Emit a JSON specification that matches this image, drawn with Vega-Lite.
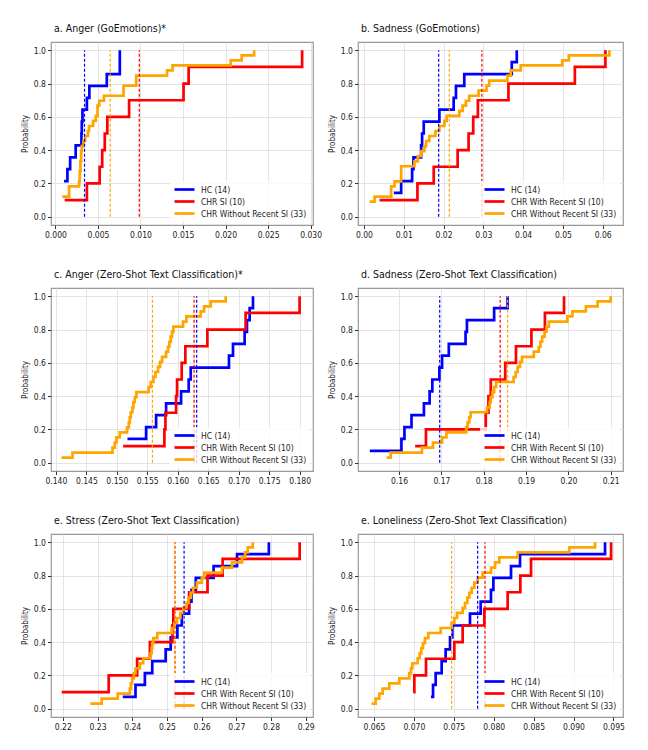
{
"$schema": "https://vega.github.io/schema/vega-lite/v6.json",
"background": "white",
"padding": {"left": 20, "top": 22, "right": 5, "bottom": 5},
"datasets": {
"cdf": [
{"p":"a","s":"h","x":0.00101,"y":0.214},{"p":"a","s":"h","x":0.00141,"y":0.286},{"p":"a","s":"h","x":0.00173,"y":0.357},{"p":"a","s":"h","x":0.00238,"y":0.429},{"p":"a","s":"h","x":0.00306,"y":0.5},{"p":"a","s":"h","x":0.0031,"y":0.571},{"p":"a","s":"h","x":0.00318,"y":0.643},{"p":"a","s":"h","x":0.0037,"y":0.714},{"p":"a","s":"h","x":0.00399,"y":0.786},{"p":"a","s":"h","x":0.00604,"y":0.857},{"p":"a","s":"h","x":0.00757,"y":1.0},
{"p":"a","s":"r","x":0.00109,"y":0.1},{"p":"a","s":"r","x":0.0037,"y":0.2},{"p":"a","s":"r","x":0.0052,"y":0.3},{"p":"a","s":"r","x":0.0055,"y":0.4},{"p":"a","s":"r","x":0.0058,"y":0.5},{"p":"a","s":"r","x":0.0061,"y":0.6},{"p":"a","s":"r","x":0.00866,"y":0.7},{"p":"a","s":"r","x":0.01506,"y":0.8},{"p":"a","s":"r","x":0.01566,"y":0.9},{"p":"a","s":"r","x":0.029,"y":1.0},
{"p":"a","s":"o","x":0.00081,"y":0.121},{"p":"a","s":"o","x":0.00161,"y":0.182},{"p":"a","s":"o","x":0.00278,"y":0.212},{"p":"a","s":"o","x":0.00286,"y":0.273},{"p":"a","s":"o","x":0.00294,"y":0.333},{"p":"a","s":"o","x":0.00302,"y":0.394},{"p":"a","s":"o","x":0.0031,"y":0.424},{"p":"a","s":"o","x":0.0033,"y":0.455},{"p":"a","s":"o","x":0.0035,"y":0.485},{"p":"a","s":"o","x":0.00382,"y":0.515},{"p":"a","s":"o","x":0.00395,"y":0.545},{"p":"a","s":"o","x":0.00443,"y":0.576},{"p":"a","s":"o","x":0.00475,"y":0.606},{"p":"a","s":"o","x":0.00495,"y":0.667},{"p":"a","s":"o","x":0.00515,"y":0.697},{"p":"a","s":"o","x":0.00571,"y":0.727},{"p":"a","s":"o","x":0.00801,"y":0.788},{"p":"a","s":"o","x":0.0095,"y":0.848},{"p":"a","s":"o","x":0.01312,"y":0.879},{"p":"a","s":"o","x":0.01377,"y":0.909},{"p":"a","s":"o","x":0.0206,"y":0.939},{"p":"a","s":"o","x":0.0219,"y":0.97},{"p":"a","s":"o","x":0.02336,"y":1.0},

{"p":"b","s":"h","x":0.00751,"y":0.143},{"p":"b","s":"h","x":0.00935,"y":0.214},{"p":"b","s":"h","x":0.0121,"y":0.286},{"p":"b","s":"h","x":0.01244,"y":0.357},{"p":"b","s":"h","x":0.01436,"y":0.429},{"p":"b","s":"h","x":0.01461,"y":0.5},{"p":"b","s":"h","x":0.01502,"y":0.571},{"p":"b","s":"h","x":0.01895,"y":0.643},{"p":"b","s":"h","x":0.02254,"y":0.714},{"p":"b","s":"h","x":0.02312,"y":0.786},{"p":"b","s":"h","x":0.02521,"y":0.857},{"p":"b","s":"h","x":0.03714,"y":0.929},{"p":"b","s":"h","x":0.0384,"y":1.0},
{"p":"b","s":"r","x":0.00392,"y":0.1},{"p":"b","s":"r","x":0.01344,"y":0.2},{"p":"b","s":"r","x":0.01753,"y":0.3},{"p":"b","s":"r","x":0.02354,"y":0.4},{"p":"b","s":"r","x":0.02629,"y":0.5},{"p":"b","s":"r","x":0.02746,"y":0.6},{"p":"b","s":"r","x":0.02863,"y":0.7},{"p":"b","s":"r","x":0.03631,"y":0.8},{"p":"b","s":"r","x":0.053,"y":0.9},{"p":"b","s":"r","x":0.06068,"y":1.0},
{"p":"b","s":"o","x":0.00142,"y":0.091},{"p":"b","s":"o","x":0.00267,"y":0.121},{"p":"b","s":"o","x":0.00684,"y":0.182},{"p":"b","s":"o","x":0.00768,"y":0.212},{"p":"b","s":"o","x":0.00935,"y":0.303},{"p":"b","s":"o","x":0.01269,"y":0.333},{"p":"b","s":"o","x":0.01352,"y":0.364},{"p":"b","s":"o","x":0.01436,"y":0.394},{"p":"b","s":"o","x":0.01519,"y":0.424},{"p":"b","s":"o","x":0.01561,"y":0.455},{"p":"b","s":"o","x":0.01644,"y":0.485},{"p":"b","s":"o","x":0.01795,"y":0.515},{"p":"b","s":"o","x":0.01895,"y":0.545},{"p":"b","s":"o","x":0.0202,"y":0.576},{"p":"b","s":"o","x":0.02078,"y":0.606},{"p":"b","s":"o","x":0.02396,"y":0.636},{"p":"b","s":"o","x":0.02479,"y":0.667},{"p":"b","s":"o","x":0.02563,"y":0.697},{"p":"b","s":"o","x":0.02646,"y":0.727},{"p":"b","s":"o","x":0.0288,"y":0.758},{"p":"b","s":"o","x":0.0308,"y":0.788},{"p":"b","s":"o","x":0.03147,"y":0.818},{"p":"b","s":"o","x":0.03606,"y":0.848},{"p":"b","s":"o","x":0.03689,"y":0.879},{"p":"b","s":"o","x":0.0394,"y":0.909},{"p":"b","s":"o","x":0.04983,"y":0.939},{"p":"b","s":"o","x":0.0515,"y":0.97},{"p":"b","s":"o","x":0.06169,"y":1.0},

{"p":"c","s":"h","x":0.15175,"y":0.143},{"p":"c","s":"h","x":0.15481,"y":0.214},{"p":"c","s":"h","x":0.15645,"y":0.286},{"p":"c","s":"h","x":0.15809,"y":0.357},{"p":"c","s":"h","x":0.16055,"y":0.429},{"p":"c","s":"h","x":0.1618,"y":0.5},{"p":"c","s":"h","x":0.16213,"y":0.571},{"p":"c","s":"h","x":0.16841,"y":0.643},{"p":"c","s":"h","x":0.16907,"y":0.714},{"p":"c","s":"h","x":0.17098,"y":0.786},{"p":"c","s":"h","x":0.17136,"y":0.857},{"p":"c","s":"h","x":0.1718,"y":0.929},{"p":"c","s":"h","x":0.17235,"y":1.0},
{"p":"c","s":"r","x":0.15104,"y":0.1},{"p":"c","s":"r","x":0.15781,"y":0.2},{"p":"c","s":"r","x":0.15798,"y":0.3},{"p":"c","s":"r","x":0.15973,"y":0.4},{"p":"c","s":"r","x":0.15989,"y":0.5},{"p":"c","s":"r","x":0.16065,"y":0.6},{"p":"c","s":"r","x":0.16125,"y":0.7},{"p":"c","s":"r","x":0.16486,"y":0.8},{"p":"c","s":"r","x":0.17114,"y":0.9},{"p":"c","s":"r","x":0.18,"y":1.0},
{"p":"c","s":"o","x":0.14093,"y":0.03},{"p":"c","s":"o","x":0.14273,"y":0.061},{"p":"c","s":"o","x":0.14929,"y":0.091},{"p":"c","s":"o","x":0.14967,"y":0.121},{"p":"c","s":"o","x":0.14994,"y":0.152},{"p":"c","s":"o","x":0.15049,"y":0.182},{"p":"c","s":"o","x":0.15169,"y":0.212},{"p":"c","s":"o","x":0.15197,"y":0.242},{"p":"c","s":"o","x":0.15213,"y":0.273},{"p":"c","s":"o","x":0.15229,"y":0.303},{"p":"c","s":"o","x":0.15257,"y":0.333},{"p":"c","s":"o","x":0.15273,"y":0.364},{"p":"c","s":"o","x":0.15295,"y":0.394},{"p":"c","s":"o","x":0.15322,"y":0.424},{"p":"c","s":"o","x":0.15524,"y":0.455},{"p":"c","s":"o","x":0.15557,"y":0.485},{"p":"c","s":"o","x":0.15601,"y":0.515},{"p":"c","s":"o","x":0.15634,"y":0.545},{"p":"c","s":"o","x":0.15677,"y":0.576},{"p":"c","s":"o","x":0.1571,"y":0.606},{"p":"c","s":"o","x":0.15743,"y":0.636},{"p":"c","s":"o","x":0.15809,"y":0.667},{"p":"c","s":"o","x":0.15841,"y":0.697},{"p":"c","s":"o","x":0.15863,"y":0.727},{"p":"c","s":"o","x":0.15885,"y":0.758},{"p":"c","s":"o","x":0.15907,"y":0.788},{"p":"c","s":"o","x":0.15929,"y":0.818},{"p":"c","s":"o","x":0.16087,"y":0.848},{"p":"c","s":"o","x":0.16142,"y":0.879},{"p":"c","s":"o","x":0.16377,"y":0.909},{"p":"c","s":"o","x":0.16432,"y":0.939},{"p":"c","s":"o","x":0.16541,"y":0.97},{"p":"c","s":"o","x":0.16787,"y":1.0},

{"p":"d","s":"h","x":0.1531,"y":0.071},{"p":"d","s":"h","x":0.16056,"y":0.143},{"p":"d","s":"h","x":0.16127,"y":0.214},{"p":"d","s":"h","x":0.16294,"y":0.286},{"p":"d","s":"h","x":0.16587,"y":0.357},{"p":"d","s":"h","x":0.16722,"y":0.429},{"p":"d","s":"h","x":0.16786,"y":0.5},{"p":"d","s":"h","x":0.16952,"y":0.571},{"p":"d","s":"h","x":0.17016,"y":0.643},{"p":"d","s":"h","x":0.17175,"y":0.714},{"p":"d","s":"h","x":0.17571,"y":0.786},{"p":"d","s":"h","x":0.17603,"y":0.857},{"p":"d","s":"h","x":0.18246,"y":0.929},{"p":"d","s":"h","x":0.18564,"y":1.0},
{"p":"d","s":"r","x":0.16381,"y":0.1},{"p":"d","s":"r","x":0.16635,"y":0.2},{"p":"d","s":"r","x":0.18048,"y":0.3},{"p":"d","s":"r","x":0.18111,"y":0.4},{"p":"d","s":"r","x":0.18167,"y":0.5},{"p":"d","s":"r","x":0.18508,"y":0.6},{"p":"d","s":"r","x":0.18762,"y":0.7},{"p":"d","s":"r","x":0.19127,"y":0.8},{"p":"d","s":"r","x":0.19445,"y":0.9},{"p":"d","s":"r","x":0.19897,"y":1.0},
{"p":"d","s":"o","x":0.15706,"y":0.03},{"p":"d","s":"o","x":0.15802,"y":0.061},{"p":"d","s":"o","x":0.1654,"y":0.091},{"p":"d","s":"o","x":0.16802,"y":0.121},{"p":"d","s":"o","x":0.17016,"y":0.152},{"p":"d","s":"o","x":0.17119,"y":0.182},{"p":"d","s":"o","x":0.17587,"y":0.212},{"p":"d","s":"o","x":0.17619,"y":0.242},{"p":"d","s":"o","x":0.17659,"y":0.273},{"p":"d","s":"o","x":0.17691,"y":0.303},{"p":"d","s":"o","x":0.18079,"y":0.333},{"p":"d","s":"o","x":0.18143,"y":0.364},{"p":"d","s":"o","x":0.18167,"y":0.394},{"p":"d","s":"o","x":0.18206,"y":0.424},{"p":"d","s":"o","x":0.18246,"y":0.455},{"p":"d","s":"o","x":0.18294,"y":0.485},{"p":"d","s":"o","x":0.18706,"y":0.515},{"p":"d","s":"o","x":0.18754,"y":0.545},{"p":"d","s":"o","x":0.18802,"y":0.576},{"p":"d","s":"o","x":0.18857,"y":0.606},{"p":"d","s":"o","x":0.18905,"y":0.636},{"p":"d","s":"o","x":0.19183,"y":0.667},{"p":"d","s":"o","x":0.19302,"y":0.697},{"p":"d","s":"o","x":0.19341,"y":0.727},{"p":"d","s":"o","x":0.19381,"y":0.758},{"p":"d","s":"o","x":0.19437,"y":0.788},{"p":"d","s":"o","x":0.19484,"y":0.818},{"p":"d","s":"o","x":0.1954,"y":0.848},{"p":"d","s":"o","x":0.19976,"y":0.879},{"p":"d","s":"o","x":0.20095,"y":0.909},{"p":"d","s":"o","x":0.20413,"y":0.939},{"p":"d","s":"o","x":0.20691,"y":0.97},{"p":"d","s":"o","x":0.21,"y":1.0},

{"p":"e","s":"h","x":0.23728,"y":0.071},{"p":"e","s":"h","x":0.24095,"y":0.143},{"p":"e","s":"h","x":0.24365,"y":0.214},{"p":"e","s":"h","x":0.24578,"y":0.286},{"p":"e","s":"h","x":0.24964,"y":0.357},{"p":"e","s":"h","x":0.25109,"y":0.429},{"p":"e","s":"h","x":0.25302,"y":0.5},{"p":"e","s":"h","x":0.25428,"y":0.571},{"p":"e","s":"h","x":0.2564,"y":0.643},{"p":"e","s":"h","x":0.25708,"y":0.714},{"p":"e","s":"h","x":0.25833,"y":0.786},{"p":"e","s":"h","x":0.26345,"y":0.857},{"p":"e","s":"h","x":0.27021,"y":0.929},{"p":"e","s":"h","x":0.27938,"y":1.0},
{"p":"e","s":"r","x":0.21971,"y":0.1},{"p":"e","s":"r","x":0.23323,"y":0.2},{"p":"e","s":"r","x":0.24143,"y":0.3},{"p":"e","s":"r","x":0.2451,"y":0.4},{"p":"e","s":"r","x":0.25157,"y":0.5},{"p":"e","s":"r","x":0.25186,"y":0.6},{"p":"e","s":"r","x":0.2564,"y":0.7},{"p":"e","s":"r","x":0.26171,"y":0.8},{"p":"e","s":"r","x":0.26606,"y":0.9},{"p":"e","s":"r","x":0.28826,"y":1.0},
{"p":"e","s":"o","x":0.22792,"y":0.03},{"p":"e","s":"o","x":0.2312,"y":0.061},{"p":"e","s":"o","x":0.23583,"y":0.091},{"p":"e","s":"o","x":0.23931,"y":0.121},{"p":"e","s":"o","x":0.2396,"y":0.152},{"p":"e","s":"o","x":0.23999,"y":0.182},{"p":"e","s":"o","x":0.24047,"y":0.212},{"p":"e","s":"o","x":0.24095,"y":0.242},{"p":"e","s":"o","x":0.24221,"y":0.273},{"p":"e","s":"o","x":0.24317,"y":0.303},{"p":"e","s":"o","x":0.2453,"y":0.333},{"p":"e","s":"o","x":0.24559,"y":0.364},{"p":"e","s":"o","x":0.24578,"y":0.394},{"p":"e","s":"o","x":0.24607,"y":0.424},{"p":"e","s":"o","x":0.24723,"y":0.455},{"p":"e","s":"o","x":0.25138,"y":0.485},{"p":"e","s":"o","x":0.25215,"y":0.515},{"p":"e","s":"o","x":0.25292,"y":0.545},{"p":"e","s":"o","x":0.25389,"y":0.576},{"p":"e","s":"o","x":0.25476,"y":0.606},{"p":"e","s":"o","x":0.25553,"y":0.636},{"p":"e","s":"o","x":0.25621,"y":0.667},{"p":"e","s":"o","x":0.25688,"y":0.697},{"p":"e","s":"o","x":0.25756,"y":0.727},{"p":"e","s":"o","x":0.25862,"y":0.758},{"p":"e","s":"o","x":0.26007,"y":0.788},{"p":"e","s":"o","x":0.26074,"y":0.818},{"p":"e","s":"o","x":0.26586,"y":0.848},{"p":"e","s":"o","x":0.26876,"y":0.879},{"p":"e","s":"o","x":0.27165,"y":0.909},{"p":"e","s":"o","x":0.27252,"y":0.939},{"p":"e","s":"o","x":0.2733,"y":0.97},{"p":"e","s":"o","x":0.27474,"y":1.0},

{"p":"f","s":"h","x":0.07214,"y":0.071},{"p":"f","s":"h","x":0.0724,"y":0.143},{"p":"f","s":"h","x":0.07273,"y":0.214},{"p":"f","s":"h","x":0.07348,"y":0.286},{"p":"f","s":"h","x":0.07398,"y":0.357},{"p":"f","s":"h","x":0.07453,"y":0.429},{"p":"f","s":"h","x":0.07482,"y":0.5},{"p":"f","s":"h","x":0.07703,"y":0.571},{"p":"f","s":"h","x":0.07837,"y":0.643},{"p":"f","s":"h","x":0.07966,"y":0.714},{"p":"f","s":"h","x":0.07996,"y":0.786},{"p":"f","s":"h","x":0.08217,"y":0.857},{"p":"f","s":"h","x":0.0833,"y":0.929},{"p":"f","s":"h","x":0.09395,"y":1.0},
{"p":"f","s":"r","x":0.06993,"y":0.1},{"p":"f","s":"r","x":0.07006,"y":0.2},{"p":"f","s":"r","x":0.07152,"y":0.3},{"p":"f","s":"r","x":0.07507,"y":0.4},{"p":"f","s":"r","x":0.07611,"y":0.5},{"p":"f","s":"r","x":0.07883,"y":0.6},{"p":"f","s":"r","x":0.08175,"y":0.7},{"p":"f","s":"r","x":0.08334,"y":0.8},{"p":"f","s":"r","x":0.08468,"y":0.9},{"p":"f","s":"r","x":0.09471,"y":1.0},
{"p":"f","s":"o","x":0.06471,"y":0.03},{"p":"f","s":"o","x":0.06521,"y":0.061},{"p":"f","s":"o","x":0.06567,"y":0.091},{"p":"f","s":"o","x":0.06609,"y":0.121},{"p":"f","s":"o","x":0.06692,"y":0.152},{"p":"f","s":"o","x":0.06818,"y":0.182},{"p":"f","s":"o","x":0.06943,"y":0.212},{"p":"f","s":"o","x":0.06964,"y":0.242},{"p":"f","s":"o","x":0.0698,"y":0.273},{"p":"f","s":"o","x":0.07047,"y":0.303},{"p":"f","s":"o","x":0.07072,"y":0.333},{"p":"f","s":"o","x":0.07093,"y":0.364},{"p":"f","s":"o","x":0.07114,"y":0.394},{"p":"f","s":"o","x":0.07139,"y":0.424},{"p":"f","s":"o","x":0.07181,"y":0.455},{"p":"f","s":"o","x":0.07336,"y":0.485},{"p":"f","s":"o","x":0.07473,"y":0.515},{"p":"f","s":"o","x":0.07507,"y":0.545},{"p":"f","s":"o","x":0.0754,"y":0.576},{"p":"f","s":"o","x":0.07611,"y":0.606},{"p":"f","s":"o","x":0.07641,"y":0.636},{"p":"f","s":"o","x":0.0767,"y":0.667},{"p":"f","s":"o","x":0.07695,"y":0.697},{"p":"f","s":"o","x":0.07724,"y":0.727},{"p":"f","s":"o","x":0.07758,"y":0.758},{"p":"f","s":"o","x":0.07799,"y":0.788},{"p":"f","s":"o","x":0.07862,"y":0.818},{"p":"f","s":"o","x":0.07967,"y":0.848},{"p":"f","s":"o","x":0.08017,"y":0.879},{"p":"f","s":"o","x":0.08071,"y":0.909},{"p":"f","s":"o","x":0.08301,"y":0.939},{"p":"f","s":"o","x":0.08948,"y":0.97},{"p":"f","s":"o","x":0.0927,"y":1.0}
],
"med": [
{"p":"a","s":"h","x":0.00342},{"p":"a","s":"r","x":0.00986},{"p":"a","s":"o","x":0.00644},
{"p":"b","s":"h","x":0.01878},{"p":"b","s":"r","x":0.02963},{"p":"b","s":"o","x":0.02145},
{"p":"c","s":"h","x":0.16311},{"p":"c","s":"r","x":0.16268},{"p":"c","s":"o","x":0.15585},
{"p":"d","s":"h","x":0.1696},{"p":"d","s":"r","x":0.18389},{"p":"d","s":"o","x":0.18564},
{"p":"e","s":"h","x":0.25495},{"p":"e","s":"r","x":0.25234},{"p":"e","s":"o","x":0.25234},
{"p":"f","s":"h","x":0.07799},{"p":"f","s":"r","x":0.07891},{"p":"f","s":"o","x":0.07473}
]
},
"columns": 2,
"spacing": {"column": 4, "row": 28},
"resolve": {"scale": {"color": "independent", "x": "independent", "y": "independent"}, "legend": {"color": "independent"}},
"concat": [
{"width": 262, "height": 183, "title": "a. Anger (GoEmotions)*",
 "layer": [
  {"data": {"name": "cdf"}, "transform": [{"filter": "datum.p=='a'"}],
   "mark": {"type": "line", "interpolate": "step-after", "strokeWidth": 2.7},
   "encoding": {
    "x": {"field": "x", "type": "quantitative", "scale": {"domain": [-0.00052, 0.03028], "nice": false, "zero": false}, "axis": {"values": [0, 0.005, 0.01, 0.015, 0.02, 0.025, 0.03], "tickCount": 30, "format": ".3f", "title": null}},
    "y": {"field": "y", "type": "quantitative", "scale": {"domain": [-0.05, 1.05], "nice": false}, "axis": {"values": [0, 0.2, 0.4, 0.6, 0.8, 1], "tickCount": 30, "format": ".1f", "title": "Probability"}},
    "color": {"field": "s", "type": "nominal", "scale": {"domain": ["h", "r", "o"], "range": ["#0000ff", "#ff0000", "#ffa500"]}, "legend": {"title": null, "labelExpr": "datum.value == 'h' ? 'HC (14)' : datum.value == 'r' ? 'CHR SI (10)' : 'CHR Without Recent SI (33)'"}}
   }},
  {"data": {"name": "med"}, "transform": [{"filter": "datum.p=='a'"}],
   "mark": {"type": "rule", "strokeDash": [3, 2], "strokeWidth": 1.2},
   "encoding": {"x": {"field": "x", "type": "quantitative"}, "y": {"datum": 0}, "y2": {"datum": 1}, "color": {"field": "s", "type": "nominal", "legend": null}}}
 ]},
{"width": 265, "height": 183, "title": "b. Sadness (GoEmotions)",
 "layer": [
  {"data": {"name": "cdf"}, "transform": [{"filter": "datum.p=='b'"}],
   "mark": {"type": "line", "interpolate": "step-after", "strokeWidth": 2.7},
   "encoding": {
    "x": {"field": "x", "type": "quantitative", "scale": {"domain": [-0.0015, 0.0651], "nice": false, "zero": false}, "axis": {"values": [0, 0.01, 0.02, 0.03, 0.04, 0.05, 0.06], "tickCount": 30, "format": ".2f", "title": null}},
    "y": {"field": "y", "type": "quantitative", "scale": {"domain": [-0.05, 1.05], "nice": false}, "axis": {"values": [0, 0.2, 0.4, 0.6, 0.8, 1], "tickCount": 30, "format": ".1f", "title": "Probability"}},
    "color": {"field": "s", "type": "nominal", "scale": {"domain": ["h", "r", "o"], "range": ["#0000ff", "#ff0000", "#ffa500"]}, "legend": {"title": null, "labelExpr": "datum.value == 'h' ? 'HC (14)' : datum.value == 'r' ? 'CHR With Recent SI (10)' : 'CHR Without Recent SI (33)'"}}
   }},
  {"data": {"name": "med"}, "transform": [{"filter": "datum.p=='b'"}],
   "mark": {"type": "rule", "strokeDash": [3, 2], "strokeWidth": 1.2},
   "encoding": {"x": {"field": "x", "type": "quantitative"}, "y": {"datum": 0}, "y2": {"datum": 1}, "color": {"field": "s", "type": "nominal", "legend": null}}}
 ]},
{"width": 262, "height": 183, "title": "c. Anger (Zero-Shot Text Classification)*",
 "layer": [
  {"data": {"name": "cdf"}, "transform": [{"filter": "datum.p=='c'"}],
   "mark": {"type": "line", "interpolate": "step-after", "strokeWidth": 2.7},
   "encoding": {
    "x": {"field": "x", "type": "quantitative", "scale": {"domain": [0.1392, 0.1822], "nice": false, "zero": false}, "axis": {"values": [0.14, 0.145, 0.15, 0.155, 0.16, 0.165, 0.17, 0.175, 0.18], "tickCount": 30, "format": ".3f", "title": null}},
    "y": {"field": "y", "type": "quantitative", "scale": {"domain": [-0.05, 1.05], "nice": false}, "axis": {"values": [0, 0.2, 0.4, 0.6, 0.8, 1], "tickCount": 30, "format": ".1f", "title": "Probability"}},
    "color": {"field": "s", "type": "nominal", "scale": {"domain": ["h", "r", "o"], "range": ["#0000ff", "#ff0000", "#ffa500"]}, "legend": {"title": null, "labelExpr": "datum.value == 'h' ? 'HC (14)' : datum.value == 'r' ? 'CHR With Recent SI (10)' : 'CHR Without Recent SI (33)'"}}
   }},
  {"data": {"name": "med"}, "transform": [{"filter": "datum.p=='c'"}],
   "mark": {"type": "rule", "strokeDash": [3, 2], "strokeWidth": 1.2},
   "encoding": {"x": {"field": "x", "type": "quantitative"}, "y": {"datum": 0}, "y2": {"datum": 1}, "color": {"field": "s", "type": "nominal", "legend": null}}}
 ]},
{"width": 265, "height": 183, "title": "d. Sadness (Zero-Shot Text Classification)",
 "layer": [
  {"data": {"name": "cdf"}, "transform": [{"filter": "datum.p=='d'"}],
   "mark": {"type": "line", "interpolate": "step-after", "strokeWidth": 2.7},
   "encoding": {
    "x": {"field": "x", "type": "quantitative", "scale": {"domain": [0.1503, 0.2129], "nice": false, "zero": false}, "axis": {"values": [0.16, 0.17, 0.18, 0.19, 0.2, 0.21], "tickCount": 30, "format": ".2f", "title": null}},
    "y": {"field": "y", "type": "quantitative", "scale": {"domain": [-0.05, 1.05], "nice": false}, "axis": {"values": [0, 0.2, 0.4, 0.6, 0.8, 1], "tickCount": 30, "format": ".1f", "title": "Probability"}},
    "color": {"field": "s", "type": "nominal", "scale": {"domain": ["h", "r", "o"], "range": ["#0000ff", "#ff0000", "#ffa500"]}, "legend": {"title": null, "labelExpr": "datum.value == 'h' ? 'HC (14)' : datum.value == 'r' ? 'CHR With Recent SI (10)' : 'CHR Without Recent SI (33)'"}}
   }},
  {"data": {"name": "med"}, "transform": [{"filter": "datum.p=='d'"}],
   "mark": {"type": "rule", "strokeDash": [3, 2], "strokeWidth": 1.2},
   "encoding": {"x": {"field": "x", "type": "quantitative"}, "y": {"datum": 0}, "y2": {"datum": 1}, "color": {"field": "s", "type": "nominal", "legend": null}}}
 ]},
{"width": 262, "height": 183, "title": "e. Stress (Zero-Shot Text Classification)",
 "layer": [
  {"data": {"name": "cdf"}, "transform": [{"filter": "datum.p=='e'"}],
   "mark": {"type": "line", "interpolate": "step-after", "strokeWidth": 2.7},
   "encoding": {
    "x": {"field": "x", "type": "quantitative", "scale": {"domain": [0.2166, 0.2921], "nice": false, "zero": false}, "axis": {"values": [0.22, 0.23, 0.24, 0.25, 0.26, 0.27, 0.28, 0.29], "tickCount": 30, "format": ".2f", "title": null}},
    "y": {"field": "y", "type": "quantitative", "scale": {"domain": [-0.05, 1.05], "nice": false}, "axis": {"values": [0, 0.2, 0.4, 0.6, 0.8, 1], "tickCount": 30, "format": ".1f", "title": "Probability"}},
    "color": {"field": "s", "type": "nominal", "scale": {"domain": ["h", "r", "o"], "range": ["#0000ff", "#ff0000", "#ffa500"]}, "legend": {"title": null, "labelExpr": "datum.value == 'h' ? 'HC (14)' : datum.value == 'r' ? 'CHR With Recent SI (10)' : 'CHR Without Recent SI (33)'"}}
   }},
  {"data": {"name": "med"}, "transform": [{"filter": "datum.p=='e'"}],
   "mark": {"type": "rule", "strokeDash": [3, 2], "strokeWidth": 1.2},
   "encoding": {"x": {"field": "x", "type": "quantitative"}, "y": {"datum": 0}, "y2": {"datum": 1}, "color": {"field": "s", "type": "nominal", "legend": null}}}
 ]},
{"width": 265, "height": 183, "title": "e. Loneliness (Zero-Shot Text Classification)",
 "layer": [
  {"data": {"name": "cdf"}, "transform": [{"filter": "datum.p=='f'"}],
   "mark": {"type": "line", "interpolate": "step-after", "strokeWidth": 2.7},
   "encoding": {
    "x": {"field": "x", "type": "quantitative", "scale": {"domain": [0.063, 0.0962], "nice": false, "zero": false}, "axis": {"values": [0.065, 0.07, 0.075, 0.08, 0.085, 0.09, 0.095], "tickCount": 30, "format": ".3f", "title": null}},
    "y": {"field": "y", "type": "quantitative", "scale": {"domain": [-0.05, 1.05], "nice": false}, "axis": {"values": [0, 0.2, 0.4, 0.6, 0.8, 1], "tickCount": 30, "format": ".1f", "title": "Probability"}},
    "color": {"field": "s", "type": "nominal", "scale": {"domain": ["h", "r", "o"], "range": ["#0000ff", "#ff0000", "#ffa500"]}, "legend": {"title": null, "labelExpr": "datum.value == 'h' ? 'HC (14)' : datum.value == 'r' ? 'CHR With Recent SI (10)' : 'CHR Without Recent SI (33)'"}}
   }},
  {"data": {"name": "med"}, "transform": [{"filter": "datum.p=='f'"}],
   "mark": {"type": "rule", "strokeDash": [3, 2], "strokeWidth": 1.2},
   "encoding": {"x": {"field": "x", "type": "quantitative"}, "y": {"datum": 0}, "y2": {"datum": 1}, "color": {"field": "s", "type": "nominal", "legend": null}}}
 ]}
],
"config": {
 "font": "DejaVu Sans Condensed, Liberation Sans Narrow, DejaVu Sans",
 "view": {"stroke": "#999999", "strokeWidth": 1.2},
 "axis": {"grid": true, "gridColor": "#dedede", "gridWidth": 0.8, "domain": false, "tickColor": "#333333", "tickSize": 3.5, "labelFontSize": 8.5, "labelColor": "#222222", "labelPadding": 2, "labelFlush": false, "labelOverlap": false, "titleFontSize": 8, "titleFontWeight": "normal", "titleColor": "#222222"},
 "axisY": {"titlePadding": 4},
 "title": {"fontSize": 10.5, "fontWeight": "normal", "anchor": "start", "frame": "group", "offset": 8, "dx": 3, "color": "#111111"},
 "legend": {"orient": "bottom-right", "offset": 3, "padding": 3, "fillColor": "rgba(255,255,255,0.8)", "symbolType": "M-1,0L4,0", "symbolSize": 64, "symbolStrokeWidth": 2.7, "labelOffset": 17, "labelFontSize": 8.5, "labelColor": "#222222", "rowPadding": 1, "labelLimit": 0}
}
}
